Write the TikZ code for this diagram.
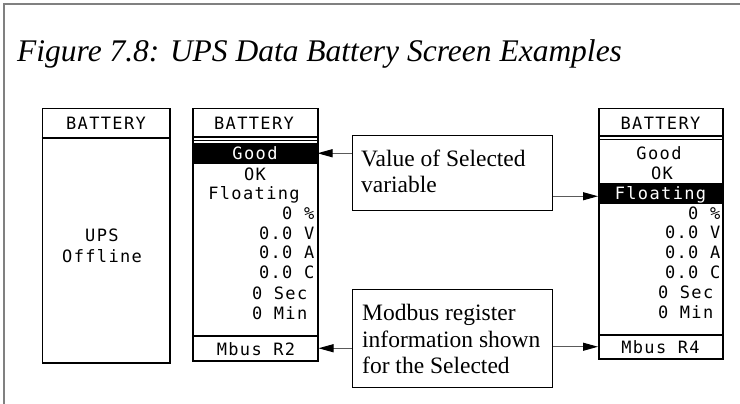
\documentclass[tikz,border=0pt]{standalone}
\usepackage{fontspec}
\setmainfont{Liberation Serif}
\newfontfamily\lcdfont[LetterSpace=8]{DejaVu Sans Mono}
\usetikzlibrary{arrows.meta}
\definecolor{framegray}{RGB}{128,128,128}
\definecolor{arrowgray}{RGB}{90,90,90}
\begin{document}
\begin{tikzpicture}[x=1pt,y=-1pt,
  scr/.style={draw=black, line width=1.5pt, inner sep=0pt, anchor=north west},
  band/.style={fill=black, draw=black, line width=0.5pt, inner sep=0pt, anchor=north west},
  foot/.style={draw=black, line width=1.5pt, inner sep=0pt, anchor=north west},
  sepline/.style={draw=black, line width=1.5pt},
  seplinethin/.style={draw=black, line width=1pt},
  lcd/.style={font={\fontsize{17}{20}\lcdfont}, inner sep=0pt},
  cbox/.style={draw=black, line width=1pt, inner sep=0pt, anchor=north west},
  ctext/.style={font={\fontsize{23.5}{26}\selectfont}, inner sep=0pt, anchor=base west},
  arr/.style={draw=arrowgray, line width=1pt, -{Triangle[length=15pt,width=8pt,color=black]}}
]
\useasboundingbox (0,0) rectangle (740,404);
% outer frame
\draw[framegray, line width=1.3pt] (4,404) -- (4,4) -- (740,4);
% title
\node[font={\fontsize{31.5}{36}\selectfont\itshape}, inner sep=0pt, anchor=base west] (title) at (17,62) {Figure 7.8: UPS Data Battery Screen Examples};

% ---------- screen 1 ----------
\node[scr, minimum width=127.5pt, minimum height=254pt] (s1) at (41.5,108) {};
\draw[sepline] (41.5,138) -- (169,138);
\node[lcd, anchor=base] (s1h) at (106,130) {BATTERY};
\node[lcd, anchor=base west] (s1a) at (85,241) {UPS};
\node[lcd, anchor=base west] (s1b) at (62,262) {Offline};

% ---------- screen 2 ----------
\node[scr, minimum width=125pt, minimum height=252pt] (s2) at (192,108) {};
\draw[sepline] (192,137) -- (317,137);
\draw[seplinethin] (192,140.5) -- (317,140.5);
\node[band, minimum width=125pt, minimum height=20pt] (band2) at (192,143) {};
\node[foot, minimum width=125pt, minimum height=25pt] (foot2) at (192,335) {};
\node[lcd, anchor=base] (s2h) at (254,130) {BATTERY};
\node[lcd, anchor=base, text=white] (s2r1) at (255,159) {Good};
\node[lcd, anchor=base] (s2r2) at (255,180) {OK};
\node[lcd, anchor=base] (s2r3) at (254,200) {Floating};
\node[lcd, anchor=base east] (s2r4) at (314.5,219) {0 \%};
\node[lcd, anchor=base east] (s2r5) at (314.5,239) {0.0 V};
\node[lcd, anchor=base east] (s2r6) at (314.5,258) {0.0 A};
\node[lcd, anchor=base east] (s2r7) at (314.5,278) {0.0 C};
\node[lcd, anchor=base east] (s2r8) at (307.5,299) {0 Sec};
\node[lcd, anchor=base east] (s2r9) at (307.5,319) {0 Min};
\node[lcd, anchor=base] (s2f) at (256,355) {Mbus R2};

% ---------- screen 3 ----------
\node[scr, minimum width=124pt, minimum height=250pt] (s3) at (598,108) {};
\draw[sepline] (598,136) -- (722,136);
\draw[seplinethin] (598,139.5) -- (722,139.5);
\node[band, minimum width=124pt, minimum height=20pt] (band3) at (598,183) {};
\node[foot, minimum width=124pt, minimum height=24pt] (foot3) at (598,334) {};
\node[lcd, anchor=base] (s3h) at (660.5,130) {BATTERY};
\node[lcd, anchor=base] (s3r1) at (659,159) {Good};
\node[lcd, anchor=base] (s3r2) at (662,179) {OK};
\node[lcd, anchor=base, text=white] (s3r3) at (660.5,199) {Floating};
\node[lcd, anchor=base east] (s3r4) at (720.5,219) {0 \%};
\node[lcd, anchor=base east] (s3r5) at (720.5,238) {0.0 V};
\node[lcd, anchor=base east] (s3r6) at (720.5,258) {0.0 A};
\node[lcd, anchor=base east] (s3r7) at (720.5,278) {0.0 C};
\node[lcd, anchor=base east] (s3r8) at (713.5,298) {0 Sec};
\node[lcd, anchor=base east] (s3r9) at (713.5,318) {0 Min};
\node[lcd, anchor=base] (s3f) at (660.5,353) {Mbus R4};

% ---------- callouts ----------
\node[cbox, minimum width=200pt, minimum height=75pt] (cb1) at (352,135) {};
\node[ctext] (cb1a) at (361,166) {Value of Selected};
\node[ctext] (cb1b) at (361,192) {variable};

\node[cbox, minimum width=200pt, minimum height=98pt] (cb2) at (352,289) {};
\node[ctext] (cb2a) at (362,320) {Modbus register};
\node[ctext] (cb2b) at (362,347) {information shown};
\node[ctext] (cb2c) at (362,373) {for the Selected};

% ---------- connectors ----------
\coordinate (a3) at ([yshift=-3pt]band3.west);
\draw[arr] (cb1.west |- band2.east) -- (band2.east);
\draw[arr] (cb1.east |- a3) -- (a3);
\draw[arr] (cb2.west |- foot2.east) -- (foot2.east);
\draw[arr] (cb2.east |- foot3.west) -- (foot3.west);
\end{tikzpicture}
\end{document}
